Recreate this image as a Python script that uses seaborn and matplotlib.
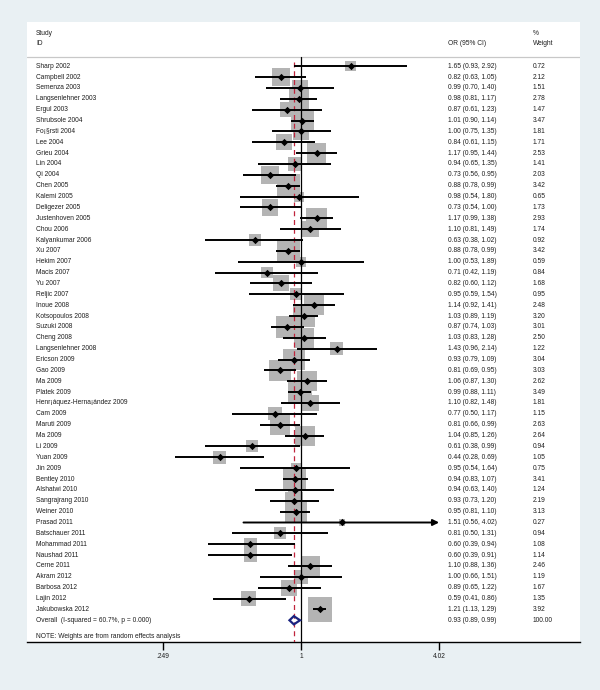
import numpy as np
import pandas as pd
import matplotlib
matplotlib.use("Agg")
import matplotlib.pyplot as plt
import seaborn as sns

# study data
studies = ["Sharp 2002", "Campbell 2002", "Semenza 2003", "Langsenlehner 2003", "Ergul 2003",
           "Shrubsole 2004", "Fo¡§rsti 2004", "Lee 2004", "Grieu 2004", "Lin 2004",
           "Qi 2004", "Chen 2005", "Kalemi 2005", "Deligezer 2005", "Justenhoven 2005",
           "Chou 2006", "Kalyankumar 2006", "Xu 2007", "Hekim 2007", "Macis 2007",
           "Yu 2007", "Reljic 2007", "Inoue 2008", "Kotsopoulos 2008", "Suzuki 2008",
           "Cheng 2008", "Langsenlehner 2008", "Ericson 2009", "Gao 2009", "Ma 2009",
           "Platek 2009", "Henr¡áquez-Herna¡ández 2009", "Cam 2009", "Maruti 2009", "Ma 2009",
           "Li 2009", "Yuan 2009", "Jin 2009", "Bentley 2010", "Alshatwi 2010",
           "Sangrajrang 2010", "Weiner 2010", "Prasad 2011", "Batschauer 2011", "Mohammad 2011",
           "Naushad 2011", "Cerne 2011", "Akram 2012", "Barbosa 2012", "Lajin 2012",
           "Jakubowska 2012"]
odds = [1.65, 0.82, 0.99, 0.98, 0.87, 1.01, 1.00, 0.84, 1.17, 0.94,
        0.73, 0.88, 0.98, 0.73, 1.17, 1.10, 0.63, 0.88, 1.00, 0.71,
        0.82, 0.95, 1.14, 1.03, 0.87, 1.03, 1.43, 0.93, 0.81, 1.06,
        0.99, 1.10, 0.77, 0.81, 1.04, 0.61, 0.44, 0.95, 0.94, 0.94,
        0.93, 0.95, 1.51, 0.81, 0.60, 0.60, 1.10, 1.00, 0.89, 0.59,
        1.21]
lower = [0.93, 0.63, 0.70, 0.81, 0.61, 0.90, 0.75, 0.61, 0.95, 0.65,
         0.56, 0.78, 0.54, 0.54, 0.99, 0.81, 0.38, 0.78, 0.53, 0.42,
         0.60, 0.59, 0.92, 0.89, 0.74, 0.83, 0.96, 0.79, 0.69, 0.87,
         0.88, 0.82, 0.50, 0.66, 0.85, 0.38, 0.28, 0.54, 0.83, 0.63,
         0.73, 0.81, 0.56, 0.50, 0.39, 0.39, 0.88, 0.66, 0.65, 0.41,
         1.13]
upper = [2.92, 1.05, 1.40, 1.17, 1.23, 1.14, 1.35, 1.15, 1.44, 1.35,
         0.95, 0.99, 1.80, 1.00, 1.38, 1.49, 1.02, 0.99, 1.89, 1.19,
         1.12, 1.54, 1.41, 1.19, 1.03, 1.28, 2.14, 1.09, 0.95, 1.30,
         1.11, 1.48, 1.17, 0.99, 1.26, 0.99, 0.69, 1.64, 1.07, 1.40,
         1.20, 1.10, 4.02, 1.31, 0.94, 0.91, 1.36, 1.51, 1.22, 0.86,
         1.29]
weights = [0.72, 2.12, 1.51, 2.78, 1.47, 3.47, 1.81, 1.71, 2.53, 1.41,
           2.03, 3.42, 0.65, 1.73, 2.93, 1.74, 0.92, 3.42, 0.59, 0.84,
           1.68, 0.95, 2.48, 3.20, 3.01, 2.50, 1.22, 3.04, 3.03, 2.62,
           3.49, 1.81, 1.15, 2.63, 2.64, 0.94, 1.05, 0.75, 3.41, 1.24,
           2.19, 3.13, 0.27, 0.94, 1.08, 1.14, 2.46, 1.19, 1.67, 1.35,
           3.92]
overall_label = "Overall  (I-squared = 60.7%, p = 0.000)"
overall = [0.93, 0.89, 0.99]
overall_weight = 100.00
note = "NOTE: Weights are from random effects analysis"
tick_vals = [0.249, 1, 4.02]
tick_labels = [".249", "1", "4.02"]

df = pd.DataFrame({"study": studies, "or": odds, "lo": lower, "hi": upper, "w": weights})
df["row"] = np.arange(len(df))
n = len(df)

sns.set_style("white")
plt.rcParams["font.family"] = ["Liberation Sans", "DejaVu Sans"]
fs = 4.8
bg = "#e9f0f3"

fig = plt.figure(figsize=(6, 6.9), dpi=100, facecolor=bg)
ax = fig.add_axes([27 / 600, 1 - 642 / 690, 553 / 600, 620 / 690])
ax.set_facecolor("white")
ax.set_xscale("log")
ax.set_xlim(0.0632, 16.63)
ax.set_ylim(53.0, -4.07)

# weight squares (area proportional to weight)
sns.scatterplot(data=df, x="or", y="row", size="w", sizes=(0, 310), size_norm=(0, 3.92),
                marker="s", color="#b4b4b4", linewidth=0, legend=False, ax=ax, zorder=2)

# reference lines
ax.plot([1, 1], [-0.82, 53.0], color="black", lw=0.9, zorder=3)
ax.plot([overall[0]] * 2, [-0.41, 53.0], color="#c0243c", lw=0.9, ls=(0, (4, 3)), zorder=3)

# confidence intervals
for _, r in df.iterrows():
    if r["hi"] >= tick_vals[-1]:
        ax.annotate("", xy=(r["hi"], r["row"]), xytext=(r["lo"], r["row"]),
                    arrowprops=dict(arrowstyle="-|>", lw=1.4, color="black",
                                    mutation_scale=9, shrinkA=0, shrinkB=0), zorder=4)
    else:
        ax.plot([r["lo"], r["hi"]], [r["row"], r["row"]], color="black", lw=1.4,
                solid_capstyle="butt", zorder=4)

sns.scatterplot(data=df, x="or", y="row", marker="D", s=14, color="black",
                linewidth=0, legend=False, ax=ax, zorder=5)

# overall diamond
yo = n
h = 0.38
ax.fill([overall[1], overall[0], overall[2], overall[0]], [yo, yo - h, yo, yo + h],
        facecolor="none", edgecolor="#1a2380", lw=1.6, zorder=5)

# text columns
tr = ax.get_yaxis_transform()
x_id, x_or, x_w = 9 / 553, 421 / 553, 506 / 553
tc = "#1e1e1e"
ax.text(x_id, -3.03, "Study", transform=tr, fontsize=fs, va="center", color=tc)
ax.text(x_id, -2.07, "ID", transform=tr, fontsize=fs, va="center", color=tc)
ax.text(x_or, -2.07, "OR (95% CI)", transform=tr, fontsize=fs, va="center", color=tc)
ax.text(x_w, -3.03, "%", transform=tr, fontsize=fs, va="center", color=tc)
ax.text(x_w, -2.07, "Weight", transform=tr, fontsize=fs, va="center", color=tc)
ax.plot([0, 1], [-0.82, -0.82], transform=tr, color="#c8c8c8", lw=0.9)

for _, r in df.iterrows():
    y = r["row"]
    ax.text(x_id, y, r["study"], transform=tr, fontsize=fs, va="center", color=tc)
    ax.text(x_or, y, f"{r['or']:.2f} ({r['lo']:.2f}, {r['hi']:.2f})", transform=tr,
            fontsize=fs, va="center", color=tc)
    ax.text(x_w, y, f"{r['w']:.2f}", transform=tr, fontsize=fs, va="center", color=tc)

ax.text(x_id, yo, overall_label, transform=tr, fontsize=fs, va="center", color=tc)
ax.text(x_or, yo, f"{overall[0]:.2f} ({overall[1]:.2f}, {overall[2]:.2f})", transform=tr,
        fontsize=fs, va="center", color=tc)
ax.text(x_w, yo, f"{overall_weight:.2f}", transform=tr, fontsize=fs, va="center", color=tc)
ax.text(x_id, n + 1.48, note, transform=tr, fontsize=fs, va="center", color=tc)

# axis styling
for s in ["top", "left", "right"]:
    ax.spines[s].set_visible(False)
ax.spines["bottom"].set_color("black")
ax.spines["bottom"].set_linewidth(1.0)
ax.set_yticks([])
ax.set_xticks(tick_vals)
ax.set_xticklabels(tick_labels)
ax.minorticks_off()
ax.tick_params(axis="x", bottom=True, length=5.5, width=1.0, pad=2.5, labelsize=fs,
               color="black", labelcolor=tc)
ax.set_xlabel("")
ax.set_ylabel("")

fig.savefig("out.png", dpi=100, facecolor=bg)
